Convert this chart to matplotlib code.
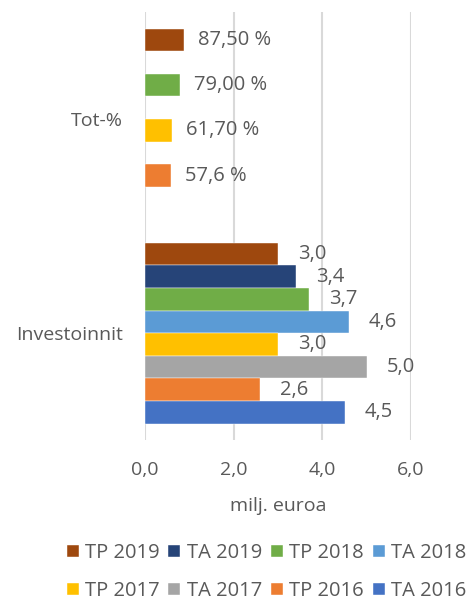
import matplotlib.pyplot as plt
import numpy as np

plt.rcParams['font.family'] = ['Open Sans', 'DejaVu Sans']

categories = ['Investoinnit', 'Tot-%']
series = ['TP 2019', 'TA 2019', 'TP 2018', 'TA 2018',
          'TP 2017', 'TA 2017', 'TP 2016', 'TA 2016']
colors = ['#9E480E', '#264478', '#70AD47', '#5B9BD5',
          '#FFC000', '#A5A5A5', '#ED7D31', '#4472C4']

# milj. euroa
investoinnit = [3.0, 3.4, 3.7, 4.6, 3.0, 5.0, 2.6, 4.5]
invest_labels = ['3,0', '3,4', '3,7', '4,6', '3,0', '5,0', '2,6', '4,5']

# Tot-% (only TP series), plotted as fractions on same axis
tot_pct = [87.5, np.nan, 79.0, np.nan, 61.7, np.nan, 57.6, np.nan]
tot_labels = ['87,50 %', '', '79,00 %', '', '61,70 %', '', '57,6 %', '']

txt = '#595959'

fig = plt.figure(figsize=(4.73, 6.03), dpi=100)
ax = fig.add_axes([0.3066, 0.270, 0.5624, 0.710])

h = 0.1057
y_pos = np.arange(len(categories))
handles = []
for i, s in enumerate(series):
    off = (3.5 - i) * h
    vals = [investoinnit[i], tot_pct[i] / 100]
    bars = ax.barh(y_pos + off, vals, height=h, color=colors[i], label=s,
                   edgecolor='white', linewidth=0.3)
    handles.append(bars)
    ax.annotate(invest_labels[i], (investoinnit[i], y_pos[0] + off),
                xytext=(20, 0), textcoords='offset pixels',
                va='center', ha='left', fontsize=14.5, color=txt)
    if tot_labels[i]:
        ax.annotate(tot_labels[i], (tot_pct[i] / 100, y_pos[1] + off),
                    xytext=(14, 0), textcoords='offset pixels',
                    va='center', ha='left', fontsize=14.5, color=txt)

ax.set_xlim(0, 6)
ax.set_ylim(-0.5, 1.5)
ax.set_xticks([0, 2, 4, 6])
ax.set_xticklabels(['0,0', '2,0', '4,0', '6,0'])
ax.set_yticks(y_pos)
ax.set_yticklabels(categories)
ax.tick_params(axis='both', length=0, labelsize=14, labelcolor=txt)
ax.tick_params(axis='x', pad=15)
ax.tick_params(axis='y', pad=16)
ax.set_xlabel('milj. euroa', fontsize=14, color=txt, labelpad=13)
ax.grid(axis='x', color='#D9D9D9', linewidth=1.5)
ax.set_axisbelow(True)
for sp in ax.spines.values():
    sp.set_visible(False)

# legend filled row by row
order = [0, 4, 1, 5, 2, 6, 3, 7]
fig.legend([handles[k] for k in order], [series[k] for k in order],
           loc='lower center', bbox_to_anchor=(0.563, -0.027), ncol=4,
           frameon=False, fontsize=14.5, labelcolor=txt,
           handlelength=0.6, handleheight=0.6, handletextpad=0.3,
           columnspacing=0.45, labelspacing=0.9)

fig.savefig('out.png', dpi=100)
